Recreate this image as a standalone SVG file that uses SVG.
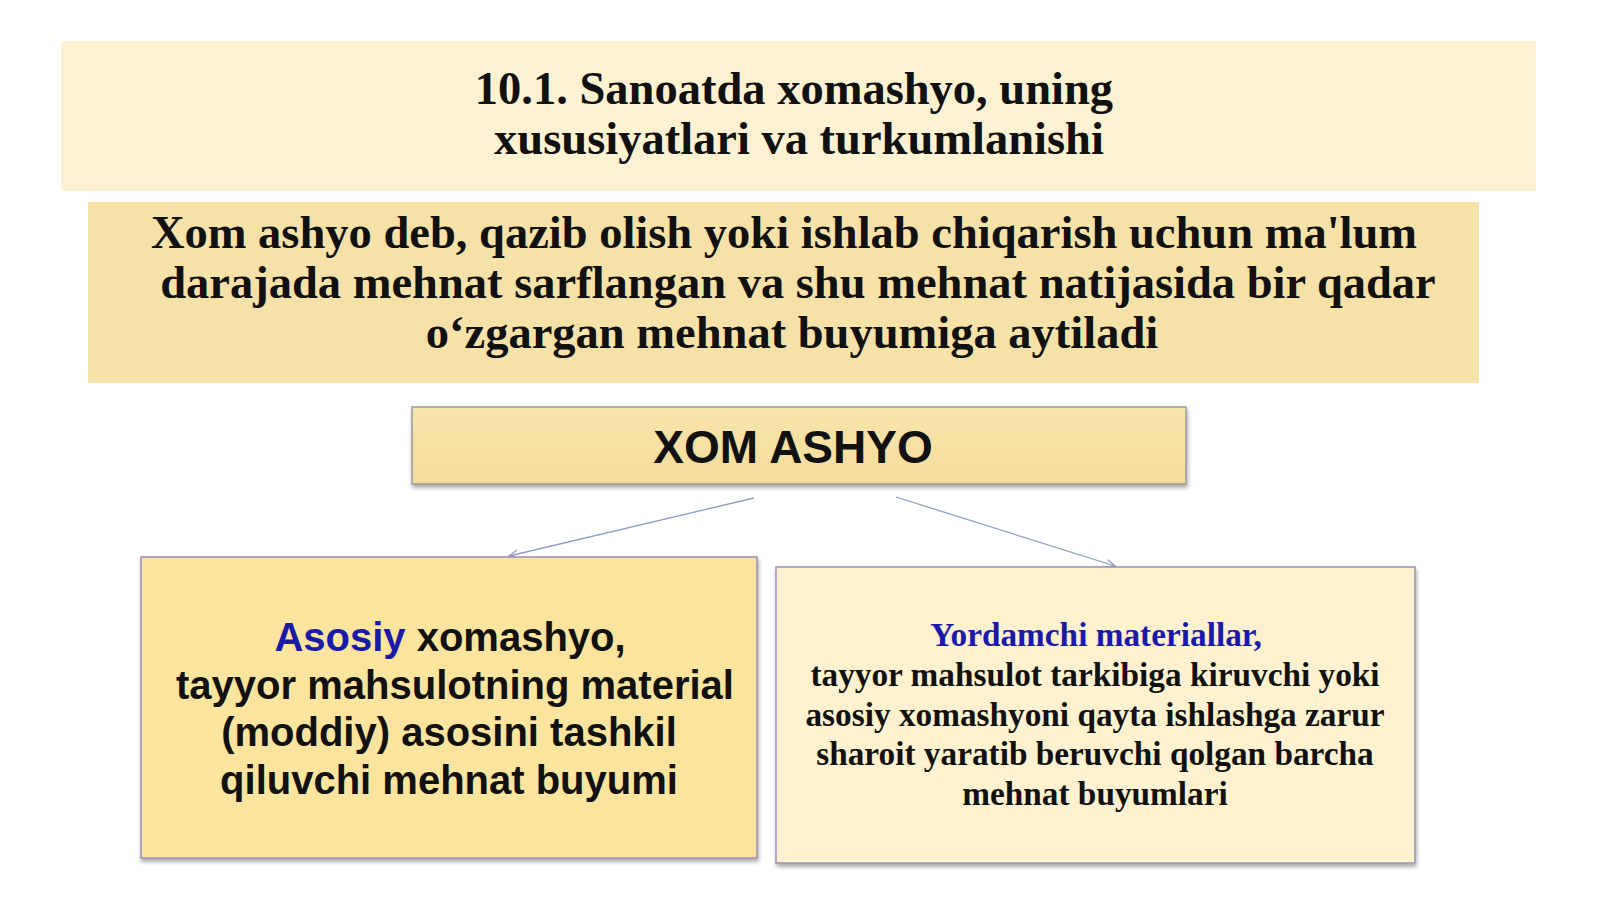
<svg xmlns="http://www.w3.org/2000/svg" width="1600" height="899" viewBox="0 0 1600 899">
<style>
.serif{font-family:"Liberation Serif","Times New Roman",serif;font-weight:bold;fill:#111;}
.sans{font-family:"Liberation Sans",Arial,sans-serif;font-weight:bold;fill:#111;}
.blue{fill:#1a1aa8;}
.conn{stroke:#8f9cc4;stroke-width:1.3;fill:none;marker-end:url(#arr);}
</style>
<defs>
<marker id="arr" viewBox="0 0 10 10" refX="9" refY="5" markerWidth="10" markerHeight="10" orient="auto" markerUnits="userSpaceOnUse">
<path d="M0,1 L9,5 L0,9" fill="none" stroke="#8f9cc4" stroke-width="1.3"/>
</marker>
<filter id="sh" x="-5%" y="-5%" width="110%" height="115%">
<feGaussianBlur in="SourceAlpha" stdDeviation="2"/>
<feOffset dx="1" dy="3" result="o"/>
<feComponentTransfer><feFuncA type="linear" slope="0.35"/></feComponentTransfer>
<feMerge><feMergeNode/><feMergeNode in="SourceGraphic"/></feMerge>
</filter>
<linearGradient id="gold" x1="0" y1="0" x2="0" y2="1">
<stop offset="0" stop-color="#f8e4ab"/>
<stop offset="1" stop-color="#f4dc9a"/>
</linearGradient>
</defs>
<rect width="1600" height="899" fill="#ffffff"/>
<g id="title">
<rect x="61" y="41" width="1475" height="150" fill="#fcf2d2"/>
<text class="serif" font-size="46.5" text-anchor="middle"><tspan x="794" y="104">10.1. Sanoatda xomashyo, uning</tspan><tspan x="799" y="154">xususiyatlari va turkumlanishi</tspan></text>
</g>
<g id="definition">
<rect x="88" y="202" width="1391" height="181" fill="#f6e2a8"/>
<text class="serif" font-size="46.5" text-anchor="middle"><tspan x="784" y="248">Xom ashyo deb, qazib olish yoki ishlab chiqarish uchun ma'lum</tspan><tspan x="798" y="298">darajada mehnat sarflangan va shu mehnat natijasida bir qadar</tspan><tspan x="792" y="348">o‘zgargan mehnat buyumiga aytiladi</tspan></text>
</g>
<g id="connectors">
<line class="conn" x1="754" y1="498" x2="509" y2="556"/>
<line class="conn" x1="896" y1="497" x2="1115" y2="566"/>
</g>
<g id="xom-ashyo">
<rect x="412" y="407" width="774" height="77" fill="url(#gold)" stroke="#9a9a9a" stroke-width="1.5" filter="url(#sh)"/>
<text class="sans" x="793" y="463" font-size="46" text-anchor="middle">XOM ASHYO</text>
</g>
<g id="asosiy">
<rect x="141" y="557" width="616" height="301" fill="#fbe49e" stroke="#9a8cb8" stroke-width="1.5" filter="url(#sh)"/>
<text class="sans" font-size="40" text-anchor="middle"><tspan x="450" y="651"><tspan class="blue">Asosiy</tspan> xomashyo,</tspan><tspan x="455" y="699">tayyor mahsulotning material</tspan><tspan x="449" y="746">(moddiy) asosini tashkil</tspan><tspan x="449" y="794">qiluvchi mehnat buyumi</tspan></text>
</g>
<g id="yordamchi">
<rect x="776" y="567" width="639" height="296" fill="#fdf1cf" stroke="#9a94b0" stroke-width="1.5" filter="url(#sh)"/>
<text class="serif" font-size="33.3" text-anchor="middle"><tspan class="blue" x="1096" y="646">Yordamchi materiallar,</tspan><tspan x="1095" y="686">tayyor mahsulot tarkibiga kiruvchi yoki</tspan><tspan x="1095" y="726">asosiy xomashyoni qayta ishlashga zarur</tspan><tspan x="1095" y="765">sharoit yaratib beruvchi qolgan barcha</tspan><tspan x="1095" y="805">mehnat buyumlari</tspan></text>
</g>
</svg>
